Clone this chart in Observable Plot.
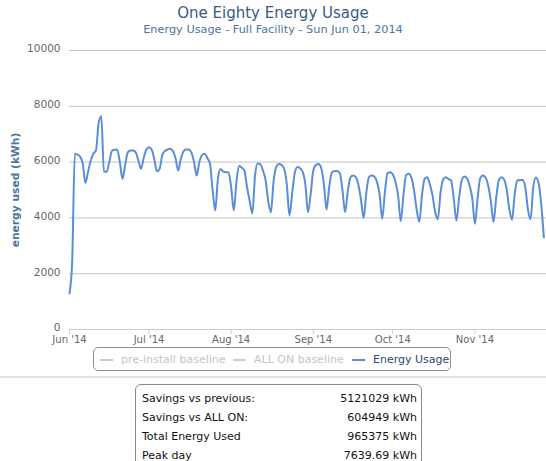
<!DOCTYPE html>
<html><head><meta charset="utf-8">
<script src="https://cdn.jsdelivr.net/npm/d3@7"></script>
<script src="https://cdn.jsdelivr.net/npm/@observablehq/plot@0.6"></script>
<style>
body{margin:0;background:#fff;font-family:"DejaVu Sans",sans-serif;}
#wrap{position:relative;width:546px;height:461px;overflow:hidden;background:#fff;}
#chart{position:absolute;left:0;top:0;}
#title{position:absolute;left:0;width:546px;top:4px;text-align:center;font-size:15px;color:#3a5a84;white-space:nowrap;}
#subtitle{position:absolute;left:0;width:546px;top:23px;text-align:center;font-size:11.3px;color:#4d759e;white-space:nowrap;}
#ytitle{position:absolute;left:15px;top:190px;transform:translate(-50%,-50%) rotate(-90deg);font-weight:bold;font-size:10.7px;color:#4d759e;white-space:nowrap;}
#legend{position:absolute;left:93px;top:347px;width:358px;height:24px;border:1px solid #909090;border-radius:5px;box-sizing:border-box;}
.item{position:absolute;top:5px;font-size:11px;white-space:nowrap;line-height:13px;}
.item i{position:absolute;left:0;top:6px;width:13px;height:2px;}
.item span{position:absolute;left:21px;top:0;}
#sep{position:absolute;left:0;top:376px;width:546px;height:2px;background:#e2e2e2;}
#stats{position:absolute;left:135px;top:384px;width:287px;height:90px;border:1px solid #888;border-radius:6px;box-sizing:border-box;padding:4px 4px 0 6px;font-size:11px;color:#111;}
#stats table{border-collapse:collapse;width:100%;}
#stats td{padding:0;height:19px;line-height:19px;}
#stats td.v{text-align:right;}
</style></head>
<body>
<div id="wrap">
  <div id="chart"></div>
  <div id="title"></div>
  <div id="subtitle"></div>
  <div id="ytitle"></div>
  <div id="legend"></div>
  <div id="sep"></div>
  <div id="stats"><table id="tbl"></table></div>
</div>
<script>
// ---- data ----
const titleText = "One Eighty Energy Usage";
const subtitleText = "Energy Usage - Full Facility - Sun Jun 01, 2014";
const yTitle = "energy used (kWh)";

// daily energy usage (kWh), one value per day starting Jun 01, 2014
const jun = [1300, 2400, 6300, 6270, 6200, 5950, 5250,
  5650, 6050, 6300, 6420, 7400, 7640, 5650,
  5650, 6000, 6400, 6440, 6440, 6000, 5400,
  5900, 6350, 6420, 6420, 6350, 6050, 5760,
  6150, 6450];
const jul = [6530, 6450, 6100, 5670, 5750, 6250, 6400, 6450, 6475, 6400,
  6150, 5700, 6100, 6380, 6450, 6450, 6350, 6000, 5520, 6000,
  6250, 6300, 6150, 5950, 5000, 4270, 5400, 5750, 5660, 5640, 5640];
const aug = [5100, 4270, 5300, 5870, 5800, 5700, 5100, 4600, 4160, 5500,
  5950, 5930, 5700, 5350, 4600, 4200, 5300, 5820, 5930, 5900,
  5760, 5200, 4090, 4850, 5600, 5820, 5780, 5650, 5200, 4200, 4850];
const sep = [5700, 5900, 5930, 5780, 5200, 4300, 5100, 5620, 5680, 5680,
  5600, 5000, 4200, 4950, 5450, 5520, 5460, 5200, 4650, 4000,
  4900, 5460, 5520, 5480, 5300, 4850, 3970, 4900, 5600, 5640];
const oct = [5560, 5300, 4800, 3880, 4800, 5530, 5580, 5450, 5000, 4300,
  3850, 4800, 5400, 5460, 5200, 4800, 4200, 3950, 4900, 5380,
  5460, 5400, 5340, 4700, 3900, 4700, 5340, 5480, 5420, 5150, 4700];
const nov = [3790, 4700, 5420, 5520, 5450, 5150, 4600, 3850, 4700, 5350,
  5460, 5380, 5000, 4300, 3930, 4850, 5340, 5360, 5360, 5100,
  4300, 3950, 5100, 5450, 5250, 4500, 3300];

const yTicks = [0, 2000, 4000, 6000, 8000, 10000];
const xTickLabels = ["Jun '14", "Jul '14", "Aug '14", "Sep '14", "Oct '14", "Nov '14"];
const xTickDates = ["2014-06-01", "2014-07-01", "2014-08-01", "2014-09-01", "2014-10-01", "2014-11-01"];

const legendNames = ["pre-install baseline", "ALL ON baseline", "Energy Usage"];
const legendVisible = [false, false, true];

const statLabels = ["Savings vs previous:", "Savings vs ALL ON:", "Total Energy Used", "Peak day"];
const statValues = ["5121029 kWh", "604949 kWh", "965375 kWh", "7639.69 kWh"];

// ---- build ----
const DAY = 864e5;
const start = Date.UTC(2014, 5, 1);
const values = [...jun, ...jul, ...aug, ...sep, ...oct, ...nov];
const data = values.map((v, i) => ({date: new Date(start + i * DAY), value: v}));
const tickDates = xTickDates.map(s => new Date(s + "T00:00:00Z"));
const lineColor = "#5b8ed8";

const chart = Plot.plot({
  width: 546, height: 350,
  marginTop: 50, marginBottom: 21, marginLeft: 69, marginRight: 0,
  style: {fontFamily: "DejaVu Sans", fontSize: "10.5px", background: "transparent", color: "#666"},
  x: {type: "utc", domain: [new Date(start), new Date(start + 180 * DAY)]},
  y: {domain: [0, 10000]},
  marks: [
    Plot.gridY(yTicks.filter(d => d > 0), {stroke: "#c4c4c4", strokeOpacity: 1}),
    Plot.ruleY([0], {stroke: "#C0D0E0"}),
    Plot.axisY(yTicks, {tickSize: 0, tickPadding: 9, dy: -1.5, tickFormat: d => String(d), fill: "#666", label: null}),
    Plot.axisX(tickDates, {tickSize: 5, tickPadding: 1, stroke: "#C0D0E0", fill: "#666", fontSize: 10, label: null,
      tickFormat: d => xTickLabels[tickDates.findIndex(t => +t === +d)]}),
    Plot.lineY(data, {x: "date", y: "value", stroke: lineColor, strokeWidth: 2, curve: "monotone-x"})
  ]
});
document.getElementById("chart").appendChild(chart);
document.getElementById("title").textContent = titleText;
document.getElementById("subtitle").textContent = subtitleText;
document.getElementById("ytitle").textContent = yTitle;

const legendLeft = [6, 139, 258];
const lg = document.getElementById("legend");
legendNames.forEach((n, i) => {
  const it = document.createElement("div");
  it.className = "item";
  it.style.left = legendLeft[i] + "px";
  const sw = document.createElement("i");
  sw.style.background = legendVisible[i] ? lineColor : "#cccccc";
  const tx = document.createElement("span");
  tx.textContent = n;
  tx.style.color = legendVisible[i] ? "#274b6d" : "#c4c4c4";
  it.appendChild(sw); it.appendChild(tx);
  lg.appendChild(it);
});

const tbl = document.getElementById("tbl");
statLabels.forEach((l, i) => {
  const tr = document.createElement("tr");
  const a = document.createElement("td"); a.textContent = l;
  const b = document.createElement("td"); b.className = "v"; b.textContent = statValues[i];
  tr.appendChild(a); tr.appendChild(b); tbl.appendChild(tr);
});
</script>
</body></html>
